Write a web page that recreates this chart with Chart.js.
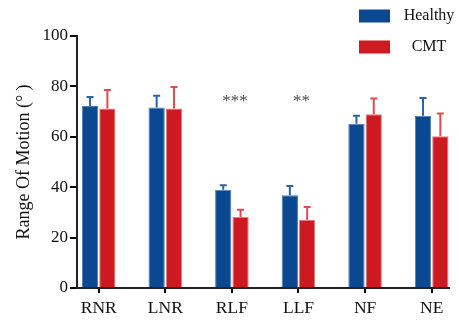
<!DOCTYPE html>
<html>
<head>
<meta charset="utf-8">
<script src="https://cdn.jsdelivr.net/npm/chart.js@4/dist/chart.umd.min.js"></script>
<style>
html,body{margin:0;padding:0;background:#fff;}
#wrap{width:459px;height:320px;position:relative;}
</style>
</head>
<body>
<div id="wrap"><canvas id="c" width="459" height="320"></canvas></div>
<script>
const categories = ['RNR', 'LNR', 'RLF', 'LLF', 'NF', 'NE'];
const healthyMean = [72.2, 71.6, 39.0, 36.8, 65.2, 68.4];
const healthyErr  = [3.6, 4.7, 1.8, 3.7, 3.2, 7.0];
const cmtMean     = [71.2, 71.2, 28.2, 27.1, 68.9, 60.2];
const cmtErr      = [7.4, 8.6, 2.9, 5.0, 6.3, 9.0];
const significance = ['', '', '***', '**', '', ''];
const yTicks = [0, 20, 40, 60, 80, 100];

const FONT = "'Liberation Serif', 'Times New Roman', serif";
const BLUE = '#0B4892';
const RED = '#CD1A21';

const errorBars = {
  id: 'errorBars',
  afterDatasetsDraw(chart) {
    const ctx = chart.ctx;
    const y = chart.scales.y;
    const errs = [healthyErr, cmtErr];
    const means = [healthyMean, cmtMean];
    const cols = ['#2A63A8', '#DE4A51'];
    chart.data.datasets.forEach((ds, di) => {
      const meta = chart.getDatasetMeta(di);
      meta.data.forEach((el, i) => {
        const top = y.getPixelForValue(means[di][i] + errs[di][i]);
        const base = y.getPixelForValue(means[di][i]);
        ctx.save();
        ctx.strokeStyle = cols[di];
        ctx.lineWidth = 2;
        ctx.beginPath();
        ctx.moveTo(el.x, base);
        ctx.lineTo(el.x, top);
        ctx.moveTo(el.x - 3.5, top);
        ctx.lineTo(el.x + 3.5, top);
        ctx.stroke();
        ctx.restore();
      });
    });
    const x = chart.scales.x;
    ctx.save();
    ctx.fillStyle = '#4a4a4a';
    ctx.font = '17px ' + FONT;
    ctx.textAlign = 'center';
    ctx.textBaseline = 'middle';
    significance.forEach((s, i) => {
      if (!s) return;
      ctx.fillText(s, x.getPixelForValue(i) + 3, y.getPixelForValue(74.0));
    });
    ctx.restore();
  }
};

const customLegend = {
  id: 'customLegend',
  afterDraw(chart) {
    const ctx = chart.ctx;
    ctx.save();
    ctx.font = '16px ' + FONT;
    ctx.textBaseline = 'middle';
    ctx.textAlign = 'center';
    chart.data.datasets.forEach((ds, i) => {
      const cy = 16 + i * 31;
      ctx.fillStyle = ds.backgroundColor;
      ctx.fillRect(359, cy - 6.5, 31, 13);
      ctx.fillStyle = '#111';
      ctx.fillText(ds.label, 429, cy);
    });
    ctx.restore();
  }
};

new Chart(document.getElementById('c'), {
  type: 'bar',
  data: {
    datasets: [
      { label: 'Healthy', data: categories.map((c, i) => ({ x: i, y: healthyMean[i] })),
        backgroundColor: BLUE, borderColor: '#4E7DBA', borderWidth: 1,
        barPercentage: 0.94, categoryPercentage: 0.52 },
      { label: 'CMT', data: categories.map((c, i) => ({ x: i, y: cmtMean[i] })),
        backgroundColor: RED, borderColor: '#E8777B', borderWidth: 1,
        barPercentage: 0.94, categoryPercentage: 0.52 }
    ]
  },
  options: {
    responsive: false,
    animation: false,
    layout: { padding: { top: 36, right: 10, bottom: 0, left: 0 } },
    plugins: { legend: { display: false }, tooltip: { enabled: false } },
    scales: {
      x: {
        type: 'linear',
        min: -0.326,
        max: 5.26,
        offset: false,
        grid: { display: true, offset: false, drawOnChartArea: false, drawTicks: true, tickLength: 5, color: '#000', lineWidth: 2 },
        border: { display: true, color: '#222', width: 2 },
        afterBuildTicks(scale) { scale.ticks = categories.map((c, i) => ({ value: i })); },
        afterFit(scale) { scale.height = 32; },
        ticks: {
          autoSkip: false,
          maxRotation: 0,
          padding: 5,
          color: '#111',
          font: { family: FONT, size: 17.5 },
          callback: (v) => categories[v]
        }
      },
      y: {
        min: 0,
        max: 100,
        afterBuildTicks(scale) { scale.ticks = yTicks.map(v => ({ value: v })); },
        afterFit(scale) { scale.width = 77; },
        grid: { display: true, drawOnChartArea: false, drawTicks: true, tickLength: 7, color: '#000', lineWidth: 2 },
        border: { display: true, color: '#222', width: 2 },
        ticks: {
          padding: 2,
          color: '#111',
          font: { family: FONT, size: 17 }
        },
        title: {
          display: true,
          text: 'Range Of Motion (° )',
          color: '#111',
          font: { family: FONT, size: 18 },
          padding: { top: 13, bottom: 0 }
        }
      }
    }
  },
  plugins: [errorBars, customLegend]
});
</script>
</body>
</html>
